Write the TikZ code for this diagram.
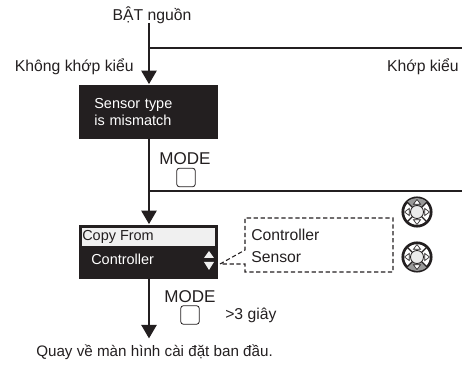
\documentclass[tikz,border=0pt]{standalone}
\usepackage{fontspec}
\setmainfont{Liberation Sans}
\usetikzlibrary{arrows.meta}
\definecolor{inkdark}{HTML}{231F20}

\tikzset{
  every node/.style={font=\fontsize{11.8pt}{12.75pt}\selectfont, text=inkdark},
  boxfont/.style={font=\fontsize{10.85pt}{12.75pt}\selectfont},
  modefont/.style={font=\fontsize{12.8pt}{13pt}\selectfont},
  flow/.style={draw=inkdark, line width=0.8pt},
  flowarrow/.style={flow, -{Triangle[width=11.5pt,length=10pt]}, shorten >=0.5pt},
  darkbox/.style={fill=inkdark, minimum width=104.25pt, minimum height=40.5pt, inner sep=0pt},
  modekey/.style={draw=inkdark, rounded corners=2.2pt, line width=0.6pt, minimum size=14pt, inner sep=0pt},
  calloutline/.style={draw=inkdark, line width=0.8pt, dash pattern=on 3.2pt off 2pt},
}

\begin{document}
\begin{tikzpicture}[x=0.75pt, y=-0.75pt]
\useasboundingbox (0,0) rectangle (462,367);

% boxes:
\node [darkbox, boxfont, text width=82pt, inner xsep=11.1pt, align=left, text=white] (mismatch) at (149,112) {Sensor type\\is mismatch};
\node [darkbox] (copybox) at (149,252) {};
\node [fill=white!94!black, minimum width=100pt, minimum height=13.5pt, inner sep=0pt] (copystrip) at (148.5,237) {};
\node [boxfont, anchor=west, inner sep=0pt] (copyfrom) at (82,237) {Copy From};
\node [boxfont, anchor=west, inner sep=0pt, text=white] (copyvalue) at (91,259) {Controller};

% texts:
\node (power) at (152,15) {BẬT nguồn};
\node [anchor=east, inner sep=0pt] (nomatch) at (134,66.5) {Không khớp kiểu};
\node [anchor=east, inner sep=0pt] (match) at (459,66.5) {Khớp kiểu};
\node [modefont] (modeA) at (185,159) {MODE};
\node [modefont] (modeB) at (190,297) {MODE};
\node [modekey] (keyA) at (186,177.5) {};
\node [modekey] (keyB) at (190,315) {};
\node [anchor=west, inner sep=0pt] (hold) at (225,315) {>3 giây};
\node [anchor=west, inner sep=0pt, font=\fontsize{11.4pt}{13pt}\selectfont] (back) at (36,352) {Quay về màn hình cài đặt ban đầu.};

% free ends of the lines:
\coordinate (start) at (149,23);
\coordinate (forkA) at (149,48);
\coordinate (endA) at (462,48);
\coordinate (forkB) at (149,191);
\coordinate (endB) at (462,191);
\coordinate (finish) at (149,339);

% flow lines:
\draw [flowarrow] (start) -- (mismatch.north);
\draw [flow] (forkA) -- (endA);
\draw [flowarrow] (mismatch.south) -- (copybox.north);
\draw [flow] (forkB) -- (endB);
\draw [flowarrow] (copybox.south) -- (finish);

% up/down marks in the display:
\fill [white!94!black] (204,258) -- (209,251) -- (214,258) -- cycle;
\fill [white!94!black] (204,262) -- (209,270) -- (214,262) -- cycle;

% dashed list with its pointer:
\coordinate (tip) at (220,264);
\draw [calloutline] (tip) -- (245,250) -- (245,218) -- (393,218) -- (393,272) -- (245,272) -- (245,264) -- (tip);
\node [anchor=west, inner sep=0pt] (listA) at (251,235) {Controller};
\node [anchor=west, inner sep=0pt] (listB) at (251,257) {Sensor};

% dials (gray part on top, then on bottom):
\foreach \cy/\from/\to [count=\i] in {212/-135/-45, 257/45/135} {
  \begin{scope}[shift={(417,\cy)}]
    \filldraw [fill=white, draw=inkdark, line width=2pt] (0,0) circle[radius=14.2];
    \fill [gray!80] (\from:14) arc[start angle=\from, end angle=\to, radius=14] -- (\to:6.5) arc[start angle=\to, end angle=\from, radius=6.5] -- cycle;
    \foreach \a in {45,135,225,315} {
      \draw [inkdark, line width=0.9pt] (\a:6.5) -- (\a:14);
    }
    \foreach \a in {0,90,180,270} {
      \draw [inkdark, line width=0.5pt, fill=white] (\a+25:8.5) -- (\a:12.5) -- (\a-25:8.5) -- cycle;
    }
    \filldraw [fill=white!92!black, draw=inkdark, line width=0.6pt] (0,0) circle[radius=6.5];
  \end{scope}
}

\end{tikzpicture}
\end{document}
